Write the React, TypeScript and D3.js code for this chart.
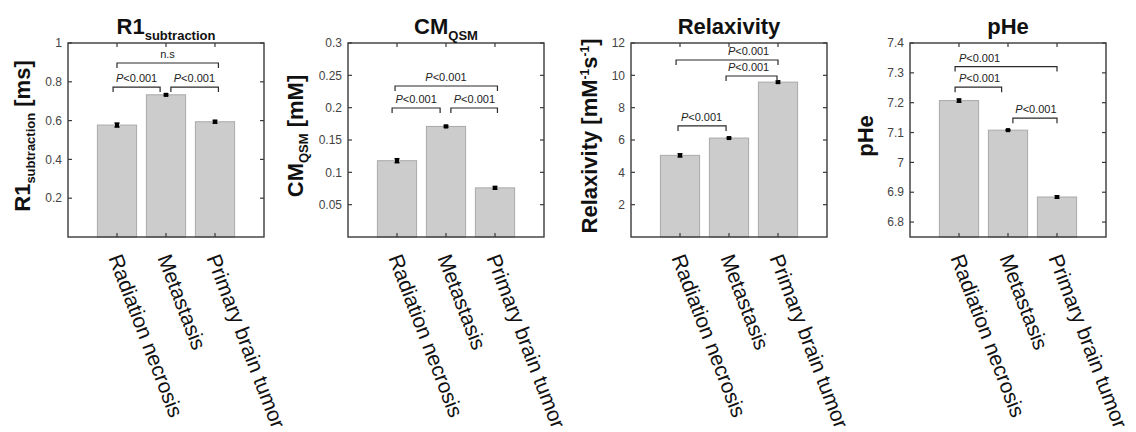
import React from "react";
import * as d3 from "d3";

const categories = ["Radiation necrosis", "Metastasis", "Primary brain tumor"];

const r1Values = [0.577, 0.733, 0.594];
const r1Errors = [0.01, 0.005, 0.007];
const cmValues = [0.118, 0.171, 0.076];
const cmErrors = [0.003, 0.0015, 0.002];
const relaxValues = [5.05, 6.12, 9.58];
const relaxErrors = [0.09, 0.05, 0.07];
const pheValues = [7.207, 7.108, 6.884];
const pheErrors = [0.005, 0.002, 0.004];

const r1Ticks = [0.2, 0.4, 0.6, 0.8, 1];
const cmTicks = [0.05, 0.1, 0.15, 0.2, 0.25, 0.3];
const relaxTicks = [2, 4, 6, 8, 10, 12];
const pheTicks = [6.8, 6.9, 7, 7.1, 7.2, 7.3, 7.4];

const r1Domain = [0, 1];
const cmDomain = [0, 0.3];
const relaxDomain = [0, 12];
const pheDomain = [6.75, 7.4];

// brackets: [from, to, y, label, labelX]
const r1Brackets: [number, number, number, string, number][] = [
  [1, 3.07, 0.897, "n.s", 2.03],
  [0.92, 1.88, 0.773, "P<0.001", 1.4],
  [2.1, 3.07, 0.773, "P<0.001", 2.58],
];
const cmBrackets: [number, number, number, string, number][] = [
  [0.96, 3.05, 0.2335, "P<0.001", 2.0],
  [0.9, 1.88, 0.1995, "P<0.001", 1.39],
  [2.1, 3.05, 0.1995, "P<0.001", 2.58],
];
const relaxBrackets: [number, number, number, string, number][] = [
  [0.92, 3.0, 10.95, "P<0.001", 2.4],
  [1.94, 2.98, 9.96, "P<0.001", 2.4],
  [0.96, 1.94, 6.87, "P<0.001", 1.44],
];
const pheBrackets: [number, number, number, string, number][] = [
  [0.92, 3.0, 7.321, "P<0.001", 1.42],
  [0.92, 1.87, 7.252, "P<0.001", 1.42],
  [2.1, 3.0, 7.148, "P<0.001", 2.57],
];

const FONT = "'Liberation Sans', Arial, Helvetica, sans-serif";
const TOP = 43;
const H = 194;
const W = 196;
const LEFTS = [68, 348, 631, 910];

type Panel = {
  values: number[];
  errors: number[];
  ticks: number[];
  domain: number[];
  brackets: [number, number, number, string, number][];
  title: React.ReactNode;
  ylabel: React.ReactNode;
  ylabelOffset: number;
  fmt: (v: number) => string;
};

const panels: Panel[] = [
  {
    values: r1Values,
    errors: r1Errors,
    ticks: r1Ticks,
    domain: r1Domain,
    brackets: r1Brackets,
    title: (
      <>
        R1<tspan fontSize={13} dy={6}>subtraction</tspan>
      </>
    ),
    ylabel: (
      <>
        R1<tspan fontSize={13} dy={5}>subtraction</tspan>
        <tspan dy={-5}> [ms]</tspan>
      </>
    ),
    ylabelOffset: 38,
    fmt: (v) => String(v),
  },
  {
    values: cmValues,
    errors: cmErrors,
    ticks: cmTicks,
    domain: cmDomain,
    brackets: cmBrackets,
    title: (
      <>
        CM<tspan fontSize={13} dy={6}>QSM</tspan>
      </>
    ),
    ylabel: (
      <>
        CM<tspan fontSize={13} dy={5}>QSM</tspan>
        <tspan dy={-5}> [mM]</tspan>
      </>
    ),
    ylabelOffset: 45,
    fmt: (v) => String(v),
  },
  {
    values: relaxValues,
    errors: relaxErrors,
    ticks: relaxTicks,
    domain: relaxDomain,
    brackets: relaxBrackets,
    title: <>Relaxivity</>,
    ylabel: (
      <>
        Relaxivity [mM<tspan fontSize={12} dy={-8}>-1</tspan>
        <tspan dy={8}>s</tspan>
        <tspan fontSize={12} dy={-8}>-1</tspan>
        <tspan dy={8}>]</tspan>
      </>
    ),
    ylabelOffset: 34,
    fmt: (v) => String(v),
  },
  {
    values: pheValues,
    errors: pheErrors,
    ticks: pheTicks,
    domain: pheDomain,
    brackets: pheBrackets,
    title: <>pHe</>,
    ylabel: <>pHe</>,
    ylabelOffset: 37,
    fmt: (v) => String(v),
  },
];

function BarPanel({ p, left }: { p: Panel; left: number }) {
  const x = d3.scaleLinear().domain([0, 4]).range([left, left + W]);
  const y = d3.scaleLinear().domain(p.domain).range([TOP + H, TOP]);
  const bw = x(0.8) - x(0);
  const bottom = TOP + H;
  const tl = 4;
  const axisColor = "#3a3a3a";
  const xs = [1, 2, 3];
  return (
    <g>
      {/* bars */}
      {p.values.map((v, i) => (
        <rect
          key={"b" + i}
          x={x(i + 1) - bw / 2}
          y={y(v)}
          width={bw}
          height={bottom - y(v)}
          fill="#cccccc"
          stroke="#a9a9a9"
          strokeWidth={1}
        />
      ))}
      {/* error bars */}
      {p.values.map((v, i) => {
        const cx = x(i + 1);
        const e = p.errors[i];
        return (
          <g key={"e" + i} stroke="#000" strokeWidth={1.6}>
            <line x1={cx} x2={cx} y1={y(v - e)} y2={y(v + e)} />
            <line x1={cx - 2.5} x2={cx + 2.5} y1={y(v - e)} y2={y(v - e)} />
            <line x1={cx - 2.5} x2={cx + 2.5} y1={y(v + e)} y2={y(v + e)} />
            <rect x={cx - 2} y={y(v) - 2} width={4} height={4} fill="#000" strokeWidth={0} />
          </g>
        );
      })}
      {/* brackets */}
      {p.brackets.map(([a, b, yv, label, lx], i) => {
        const yy = y(yv);
        return (
          <g key={"k" + i}>
            <path
              d={`M${x(a)},${yy + 5}V${yy}H${x(b)}V${yy + 5}`}
              fill="none"
              stroke="#2a2a2a"
              strokeWidth={1.2}
            />
            <text
              x={x(lx)}
              y={yy - 5}
              textAnchor="middle"
              fontSize={11}
              fontFamily={FONT}
              fill="#222"
            >
              {label.startsWith("P") ? (
                <>
                  <tspan fontStyle="italic">P</tspan>
                  {label.slice(1)}
                </>
              ) : (
                label
              )}
            </text>
          </g>
        );
      })}
      {/* axes box */}
      <rect x={left} y={TOP} width={W} height={H} fill="none" stroke={axisColor} strokeWidth={1.4} />
      {/* y ticks */}
      {p.ticks.map((t) => (
        <g key={"t" + t}>
          <line x1={left} x2={left + tl} y1={y(t)} y2={y(t)} stroke={axisColor} strokeWidth={1.2} />
          <line x1={left + W} x2={left + W - tl} y1={y(t)} y2={y(t)} stroke={axisColor} strokeWidth={1.2} />
          <text
            x={left - 6}
            y={y(t)}
            dy="0.35em"
            textAnchor="end"
            fontSize={12}
            fontFamily={FONT}
            fill="#444"
          >
            {p.fmt(t)}
          </text>
        </g>
      ))}
      {/* x ticks */}
      {xs.map((xv) => (
        <g key={"x" + xv}>
          <line x1={x(xv)} x2={x(xv)} y1={bottom} y2={bottom - tl} stroke={axisColor} strokeWidth={1.2} />
          <line x1={x(xv)} x2={x(xv)} y1={TOP} y2={TOP + tl} stroke={axisColor} strokeWidth={1.2} />
        </g>
      ))}
      {/* x labels */}
      {categories.map((c, i) => (
        <text
          key={"c" + i}
          transform={`translate(${x(i + 1) - 2},${bottom + 18}) rotate(69)`}
          dy="0.35em"
          textAnchor="start"
          fontSize={21}
          fontFamily={FONT}
          fill="#111"
        >
          {c}
        </text>
      ))}
      {/* title */}
      <text
        x={left + W / 2}
        y={34}
        textAnchor="middle"
        fontSize={22}
        fontWeight="bold"
        fontFamily={FONT}
        fill="#111"
      >
        {p.title}
      </text>
      {/* y label */}
      <text
        transform={`translate(${left - p.ylabelOffset},${TOP + H / 2 - 4}) rotate(-90)`}
        textAnchor="middle"
        fontSize={22}
        fontWeight="bold"
        fontFamily={FONT}
        fill="#111"
      >
        {p.ylabel}
      </text>
    </g>
  );
}

export default function App() {
  return (
    <svg
      width={1136}
      height={432}
      style={{ position: "absolute", left: 0, top: 0, background: "#fff" }}
    >
      <rect width={1136} height={432} fill="#fff" />
      {panels.map((p, i) => (
        <BarPanel key={i} p={p} left={LEFTS[i]} />
      ))}
    </svg>
  );
}
